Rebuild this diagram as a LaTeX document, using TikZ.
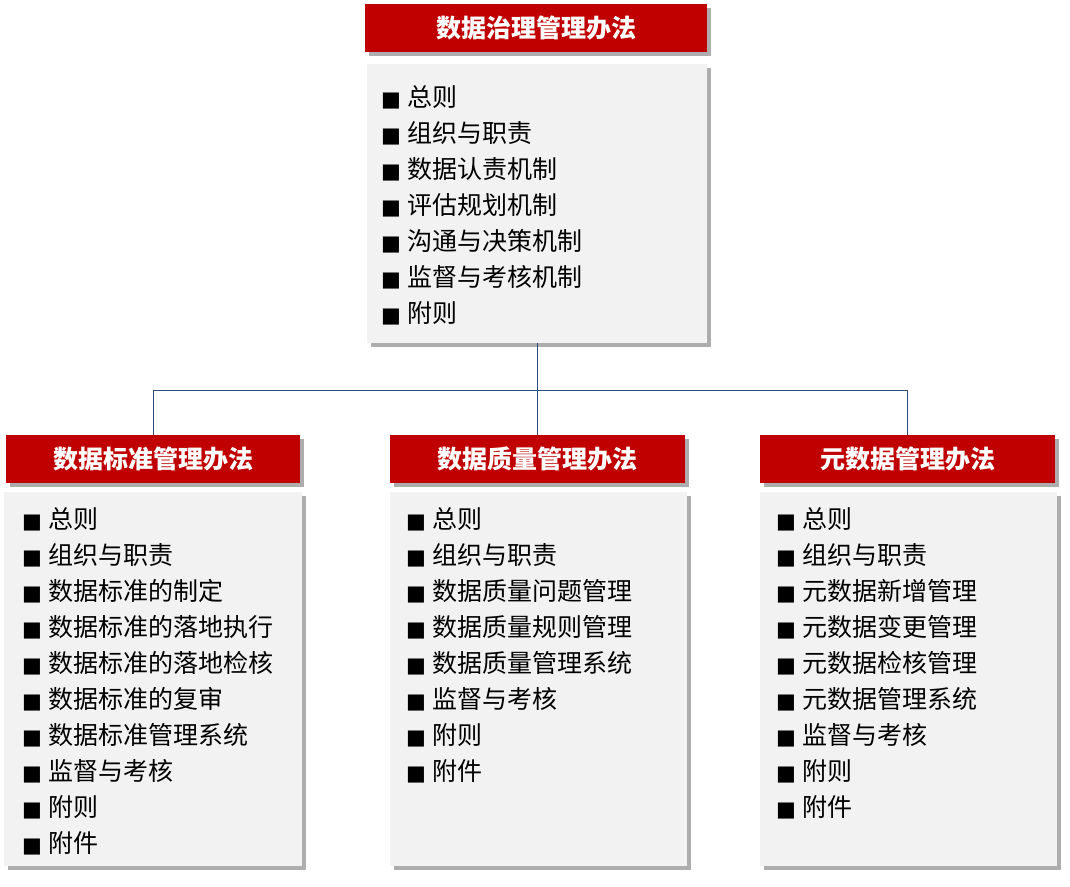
\documentclass[tikz,border=0pt]{standalone}
\usepackage{fontspec}
\setmainfont{Noto Sans CJK SC}
\newfontfamily\bulfont{DejaVu Sans}
\usetikzlibrary{shadows}
\definecolor{hdred}{HTML}{C00000}
\definecolor{bodygray}{HTML}{F2F2F2}
\definecolor{connblue}{HTML}{2F4B7C}
\newcommand{\bul}{\makebox[26pt][l]{\bulfont\fontsize{21}{25}\selectfont\raisebox{0.5pt}{■}}}
\begin{document}
\begin{tikzpicture}[x=1pt,y=-1pt,
  shad/.style={drop shadow={shadow xshift=4pt,shadow yshift=-4pt,fill=black!32,opacity=1}},
  hdr/.style={shad,fill=hdred,text=white,font=\bfseries\fontsize{25}{30}\selectfont,
    minimum height=48pt,inner sep=0pt,anchor=north west},
  bodybox/.style={shad,fill=bodygray,inner sep=0pt,anchor=north west},
  item/.style={anchor=west,inner sep=0pt,font=\fontsize{25}{30}\selectfont,
    text height=0.88em,text depth=0.12em},
  conn/.style={draw=connblue,line width=1pt}]
\fill[white] (0,0) rectangle (1070,886);
\useasboundingbox (0,0) rectangle (1070,886);
% top
\node[hdr,minimum width=342pt] (th) at (365,4) {数据治理管理办法};
\node[bodybox,minimum width=340pt,minimum height=279pt] (tb) at (367,64) {};
\foreach \t [count=\i from 0] in {总则,组织与职责,数据认责机制,评估规划机制,沟通与决策机制,监督与考核机制,附则}
  \node[item] (t\i) at (381,103+36*\i) {\bul\t};
% left
\node[hdr,minimum width=294pt] (lh) at (6,435) {数据标准管理办法};
\node[bodybox,minimum width=298pt,minimum height=374pt] (lb) at (4,492) {};
\foreach \t [count=\i from 0] in {总则,组织与职责,数据标准的制定,数据标准的落地执行,数据标准的落地检核,数据标准的复审,数据标准管理系统,监督与考核,附则,附件}
  \node[item] (l\i) at (22,525+36*\i) {\bul\t};
% middle
\node[hdr,minimum width=295pt] (mh) at (390,435) {数据质量管理办法};
\node[bodybox,minimum width=297pt,minimum height=374pt] (mb) at (390,492) {};
\foreach \t [count=\i from 0] in {总则,组织与职责,数据质量问题管理,数据质量规则管理,数据质量管理系统,监督与考核,附则,附件}
  \node[item] (m\i) at (406,525+36*\i) {\bul\t};
% right
\node[hdr,minimum width=295pt] (rh) at (760,435) {元数据管理办法};
\node[bodybox,minimum width=297pt,minimum height=374pt] (rb) at (760,492) {};
\foreach \t [count=\i from 0] in {总则,组织与职责,元数据新增管理,元数据变更管理,元数据检核管理,元数据管理系统,监督与考核,附则,附件}
  \node[item] (r\i) at (776,525+36*\i) {\bul\t};
% connectors
\coordinate (j) at (tb.south |- 0,390);
\draw[conn] (tb.south) -- (j);
\draw[conn] (lh.north) |- (j);
\draw[conn] (rh.north) |- (j);
\draw[conn] (mh.north) -- (mh.north |- j);
\end{tikzpicture}
\end{document}
